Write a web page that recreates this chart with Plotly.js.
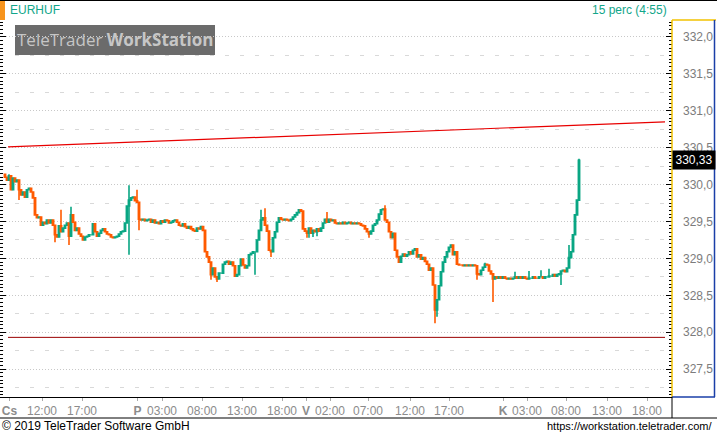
<!DOCTYPE html>
<html>
<head>
<meta charset="utf-8">
<script src="https://cdn.plot.ly/plotly-3.0.1.min.js"></script>
<style>html,body{margin:0;padding:0;background:#fff;}#chart{width:717px;height:435px;}</style>
</head>
<body>
<div id="chart"></div>
<script>
// ---- data (EURHUF, 15-minute candles) ----
const symbol = "EURHUF";
const periodText = "15 perc (4:55)";
const firstOpen = 330.14;
const closes = [
330.10,330.06,330.12,329.93,330.09,330.04,330.06,329.93,329.86,329.90,
329.83,329.93,329.95,329.90,329.82,329.59,329.55,329.56,329.45,329.49,
329.47,329.52,329.48,329.52,329.45,329.32,329.29,329.44,329.36,329.41,
329.45,329.48,329.30,329.59,329.49,329.38,329.41,329.33,329.30,329.25,
329.29,329.30,329.32,329.32,329.47,329.36,329.30,329.34,329.38,329.40,
329.36,329.33,329.32,329.29,329.28,329.29,329.30,329.33,329.36,329.37,
329.48,329.71,329.79,329.82,329.83,329.78,329.76,329.53,329.52,329.53,
329.51,329.52,329.53,
329.49,329.52,329.48,329.49,329.47,329.51,329.49,329.52,329.51,329.48,
329.49,329.51,329.52,329.49,329.45,329.44,329.47,329.43,329.41,329.43,
329.40,329.38,329.37,329.41,329.40,329.43,329.38,329.09,329.02,328.95,
328.78,328.87,328.75,328.72,328.80,328.80,328.92,328.95,328.96,328.92,
328.95,328.90,328.76,328.78,328.90,328.99,328.91,328.87,328.90,329.05,
329.07,329.09,329.09,329.25,329.38,329.52,329.55,329.45,329.37,329.11,
329.09,329.28,329.36,329.49,329.55,329.53,329.52,329.53,329.52,329.51,
329.53,329.56,329.59,329.62,329.66,329.64,
329.40,329.37,329.34,329.41,329.34,329.38,329.36,329.40,329.37,329.41,
329.48,329.53,329.49,329.53,329.51,329.52,329.48,329.47,329.48,329.47,
329.49,329.47,329.48,329.49,329.47,329.48,329.47,329.48,329.47,329.45,
329.44,329.40,329.36,329.33,329.37,329.45,329.47,329.52,329.60,329.66,
329.67,329.52,329.49,329.36,329.28,329.34,329.11,329.02,328.95,329.03,
329.06,329.03,329.05,329.09,329.06,329.11,329.13,329.02,329.05,328.99,
329.01,328.96,328.92,328.84,328.87,328.64,328.30,328.44,328.63,328.82,
328.95,329.02,329.09,329.15,329.18,329.05,329.09,328.92,328.91,328.91,
328.90,328.91,328.90,328.91,328.90,328.91,328.90,328.79,328.78,328.84,
328.88,328.92,328.91,328.83,328.79,328.72,328.75,328.73,328.75,328.73,
328.75,328.73,328.72,328.73,328.72,328.73,328.75,328.73,328.75,328.73,
328.75,328.73,328.72,328.73,328.73,328.75,328.73,328.73,328.75,328.75,
328.73,328.75,328.75,328.76,328.76,328.78,328.76,328.78,328.79,328.83,
328.84,328.82,328.87,329.01,329.09,329.32,329.59,329.79,330.33
];
// candle wicks that reach beyond the body (candle index -> price)
const wickHighIdx = [0,2,28,33,62,66,128,130,161,190,240,255,262,268,272,282,287];
const wickHighVal = [330.15,330.14,329.66,329.70,329.99,329.93,329.66,329.68,329.63,329.72,328.94,328.82,328.83,328.84,328.86,329.18,330.35];
const wickLowIdx = [7,25,32,62,67,103,106,125,133,151,152,154,156,182,215,216,236,244,278];
const wickLowVal = [329.79,329.22,329.18,329.05,329.38,328.71,328.68,328.78,329.02,329.28,329.28,329.29,329.30,329.28,328.12,328.21,328.71,328.41,328.64];
// time axis labels (candle index where each label sits)
const tickPos = [2.25,18.5,38.5,66.25,78.5,98.5,118.5,138.5,150.5,162.5,181.5,202.5,222,249,261,280.5,301,321];
const tickLabels = ["<b>Cs</b>","12:00","17:00","<b>P</b>","03:00","08:00","13:00","18:00","<b>V</b>","02:00","07:00","12:00","17:00","<b>K</b>","03:00","08:00","13:00","18:00"];
// drawn lines
const trendX = [1.5, 330];
const trendY = [330.51, 330.85];
const supportX = [1.5, 330];
const supportY = [327.93, 327.93];
const lastPrice = 330.33;

// ---- build candles ----
const idx = closes.map((c, i) => i);
const opens = closes.map((c, i) => i === 0 ? firstOpen : closes[i - 1]);
const highs = closes.map((c, i) => Math.max(c, opens[i]));
const lows = closes.map((c, i) => Math.min(c, opens[i]));
wickHighIdx.forEach((k, j) => { highs[k] = Math.max(highs[k], wickHighVal[j]); });
wickLowIdx.forEach((k, j) => { lows[k] = Math.min(lows[k], wickLowVal[j]); });

const TEAL = '#09a683';
const ORANGE = '#ff5a00';

const traces = [
  {
    type: 'candlestick', x: idx, open: opens, high: highs, low: lows, close: closes,
    increasing: {line: {color: TEAL, width: 1.6}, fillcolor: TEAL},
    decreasing: {line: {color: ORANGE, width: 1.6}, fillcolor: ORANGE},
    whiskerwidth: 0, hoverinfo: 'skip', showlegend: false
  },
  {type: 'scatter', mode: 'lines', x: trendX, y: trendY, line: {color: '#e80000', width: 1.2}, hoverinfo: 'skip', yaxis: 'y2'},
  {type: 'scatter', mode: 'lines', x: supportX, y: supportY, line: {color: '#9a0000', width: 1}, hoverinfo: 'skip'}
];

const W = 672, H = 377, T = 20;
const px = v => v / W;
const py = v => (T + H - v) / H;
const yRange = [327.122, 332.23];

const layout = {
  width: 717, height: 435,
  margin: {l: 0, r: 45, t: 20, b: 38, pad: 0},
  paper_bgcolor: '#ffffff', plot_bgcolor: '#ffffff',
  separators: ',.',
  showlegend: false,
  boxgap: 0.1,
  font: {family: 'Liberation Sans, Arial, sans-serif', size: 12, color: '#808080'},
  xaxis: {
    range: [-2.5, 333.5], tickmode: 'array', tickvals: tickPos, ticktext: tickLabels,
    tickangle: 0, tickfont: {size: 12, color: '#8c8c8c'},
    ticks: 'outside', ticklen: 3, tickcolor: '#aaaaaa',
    showgrid: false, zeroline: false, showline: true, linecolor: '#000000', linewidth: 1,
    rangeslider: {visible: false}, fixedrange: true
  },
  yaxis: {
    side: 'right', range: yRange, tick0: 327.5, dtick: 0.5, tickformat: '.1f',
    ticks: 'inside', ticklen: 6, tickcolor: '#000000', mirror: 'ticks',
    showgrid: true, gridcolor: '#c8c8c8', griddash: '1px,2px', gridwidth: 1,
    minor: {dtick: 0.25, showgrid: true, gridcolor: '#d9d9d9', griddash: '4px,11px', ticks: ''},
    tickfont: {size: 12, color: '#7c7c7c'}, ticklabelstandoff: 10,
    zeroline: false, showline: false, fixedrange: true
  },
  yaxis2: {
    overlaying: 'y', side: 'right', range: yRange, tick0: 327.5, dtick: 0.05,
    ticks: 'inside', ticklen: 3, tickcolor: '#000000', mirror: 'ticks',
    showticklabels: false, showgrid: false, zeroline: false, showline: false, fixedrange: true
  },
  shapes: [
    {type: 'line', xref: 'paper', yref: 'paper', x0: 0, x1: px(717), y0: py(0.5), y1: py(0.5), line: {color: '#000', width: 1}},
    {type: 'rect', xref: 'paper', yref: 'paper', x0: 0, x1: px(5), y0: py(20), y1: py(1), fillcolor: '#f7941d', line: {width: 0}},
    {type: 'rect', xref: 'paper', yref: 'paper', x0: px(15), x1: px(215), y0: py(55), y1: py(25), fillcolor: '#6b6b6b', line: {width: 0}, layer: 'below'},
    {type: 'line', xref: 'paper', yref: 'paper', x0: 1, x1: 1, y0: 0, y1: 1, line: {color: '#f2c200', width: 1.5}},
    {type: 'line', xref: 'paper', yref: 'paper', x0: 1, x1: px(716), y0: 1, y1: 1, line: {color: '#f2c200', width: 1.5}},
    {type: 'line', xref: 'paper', yref: 'paper', x0: px(714.5), x1: px(714.5), y0: 0, y1: 1, line: {color: '#1a3fa8', width: 1.5}},
    {type: 'line', xref: 'paper', yref: 'paper', x0: 1, x1: px(715), y0: 0, y1: 0, line: {color: '#1a3fa8', width: 1.5}},
    {type: 'line', xref: 'paper', yref: 'paper', x0: 1, x1: 1, y0: 0, y1: py(418), line: {color: '#000', width: 1}},
    {type: 'line', xref: 'paper', yref: 'paper', x0: 0, x1: px(717), y0: py(418), y1: py(418), line: {color: '#000', width: 1}}
  ],
  annotations: [
    {xref: 'paper', yref: 'paper', x: px(8), y: py(10), xanchor: 'left', yanchor: 'middle', showarrow: false,
     text: symbol, font: {size: 12, color: '#12a68a'}},
    {xref: 'paper', yref: 'paper', x: px(669), y: py(10), xanchor: 'right', yanchor: 'middle', showarrow: false,
     text: periodText, font: {size: 12, color: '#12a68a'}},
    {xref: 'paper', yref: 'paper', x: px(115), y: py(40), xanchor: 'center', yanchor: 'middle', showarrow: false,
     text: 'TeleTrader <b>WorkStation</b>', font: {size: 17, color: '#c6c6c6', family: 'Open Sans, Liberation Sans, sans-serif'}},
    {xref: 'paper', yref: 'y', x: 1, y: lastPrice, xanchor: 'left', yanchor: 'middle', showarrow: false,
     text: '330,33', bgcolor: '#000000', borderpad: 2, width: 38, font: {size: 12, color: '#ffffff'}},
    {xref: 'paper', yref: 'paper', x: 0, y: py(426), xanchor: 'left', yanchor: 'middle', showarrow: false,
     text: '© 2019 TeleTrader Software GmbH', font: {size: 12, color: '#000000'}},
    {xref: 'paper', yref: 'paper', x: px(714), y: py(426), xanchor: 'right', yanchor: 'middle', showarrow: false,
     text: 'https://workstation.teletrader.com/', font: {size: 11, color: '#000000'}}
  ]
};

Plotly.newPlot('chart', traces, layout, {staticPlot: true, displayModeBar: false});
</script>
</body>
</html>
